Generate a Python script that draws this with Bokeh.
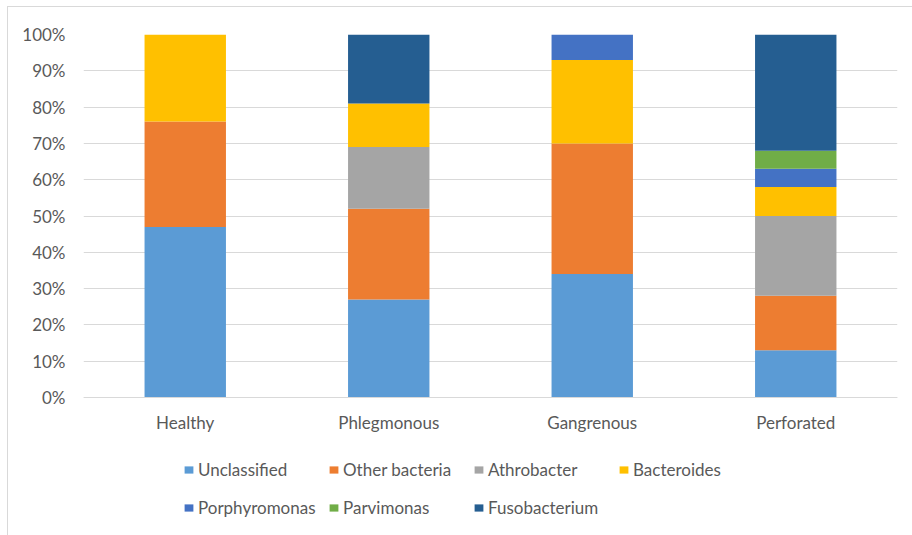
from bokeh.plotting import figure
from bokeh.models import FactorRange, Range1d, Legend, LegendItem, NumeralTickFormatter, FixedTicker, ColumnDataSource
from bokeh.embed import file_html
from bokeh.resources import INLINE

categories = ["Healthy", "Phlegmonous", "Gangrenous", "Perforated"]
series_names = ["Unclassified", "Other bacteria", "Athrobacter", "Bacteroides",
                "Porphyromonas", "Parvimonas", "Fusobacterium"]
unclassified = [47, 27, 34, 13]
other_bacteria = [29, 25, 36, 15]
athrobacter = [0, 17, 0, 22]
bacteroides = [24, 12, 23, 8]
porphyromonas = [0, 0, 7, 5]
parvimonas = [0, 0, 0, 5]
fusobacterium = [0, 19, 0, 32]
y_ticks = [0, 10, 20, 30, 40, 50, 60, 70, 80, 90, 100]

colors = ["#5B9BD5", "#ED7D31", "#A5A5A5", "#FFC000", "#4472C4", "#70AD47", "#255E91"]
series_values = [unclassified, other_bacteria, athrobacter, bacteroides,
                 porphyromonas, parvimonas, fusobacterium]

data = {"cat": categories}
for name, vals in zip(series_names, series_values):
    data[name] = [v / 100 for v in vals]
source = ColumnDataSource(data)

FONT = "Lato"
TXT = "#595959"
GRID = "#d9d9d9"

W, H = 912, 535
TOP, BOTTOM_PAD, LEFT, RIGHT = 34, 5, 83, 15
ZERO_Y = 397  # pixel row of the 0% line
frame_h = H - TOP - BOTTOM_PAD
px_per_unit = ZERO_Y - TOP
y_start = -(frame_h - px_per_unit) / px_per_unit

p = figure(x_range=FactorRange(factors=categories), y_range=Range1d(y_start, 1),
           width=W, height=H, output_backend="svg", toolbar_location=None,
           min_border_left=LEFT, min_border_right=RIGHT, min_border_top=TOP,
           min_border_bottom=BOTTOM_PAD)
p.border_fill_alpha = 0
p.styles = {
    "background": "linear-gradient(#d9d9d9,#d9d9d9) 7px 6px / 1px 100% no-repeat, "
                  "linear-gradient(#d9d9d9,#d9d9d9) 7px 6px / 100% 1px no-repeat, white"
}

renderers = p.vbar_stack(series_names, x="cat", width=0.4, source=source,
                         fill_color=colors, line_color=None)

p.outline_line_color = None
p.xgrid.grid_line_color = None
p.ygrid.grid_line_color = GRID
p.ygrid.grid_line_width = 1

p.yaxis.ticker = FixedTicker(ticks=[t / 100 for t in y_ticks])
p.yaxis.formatter = NumeralTickFormatter(format="0%")
p.yaxis.axis_line_color = None
p.yaxis.major_tick_line_color = None
p.yaxis.minor_tick_line_color = None
p.yaxis.major_tick_out = 0
p.yaxis.major_tick_in = 0
p.yaxis.major_label_standoff = 18
p.yaxis.major_label_text_font = FONT
p.yaxis.major_label_text_font_size = "17px"
p.yaxis.major_label_text_color = TXT

p.xaxis.fixed_location = 0
p.xaxis.axis_line_color = GRID
p.xaxis.major_tick_line_color = None
p.xaxis.major_tick_out = 0
p.xaxis.major_tick_in = 0
p.xaxis.major_label_standoff = 14
p.xaxis.major_label_text_font = FONT
p.xaxis.major_label_text_font_size = "17px"
p.xaxis.major_label_text_color = TXT


def make_legend(idx, loc):
    items = [LegendItem(label=series_names[i], renderers=[renderers[i]]) for i in idx]
    return Legend(items=items, orientation="horizontal", location=loc,
                  glyph_width=11, glyph_height=9, label_standoff=4, label_width=130,
                  label_height=20, spacing=0, padding=0, margin=0,
                  border_line_color=None, background_fill_alpha=0,
                  label_text_font=FONT, label_text_font_size="17px",
                  label_text_color=TXT)


p.add_layout(make_legend([0, 1, 2, 3], (100, 50)))
p.add_layout(make_legend([4, 5, 6], (100, 12)))

open("out.html", "w").write(file_html(p, INLINE))
